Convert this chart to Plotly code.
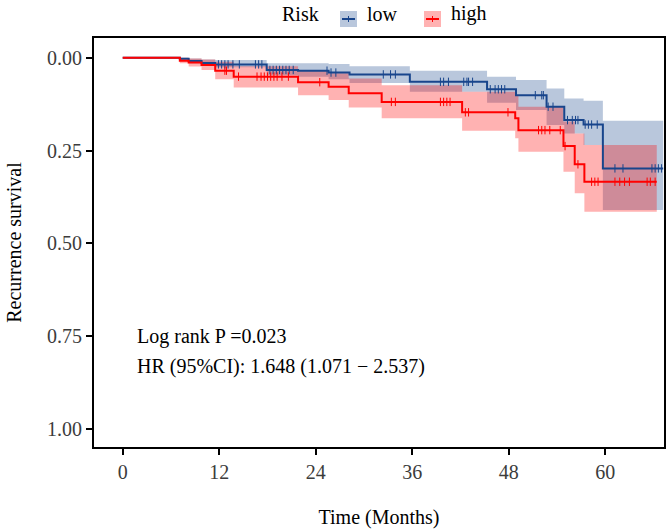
import numpy as np
import plotly.graph_objects as go

# ---------------- data ----------------
high_time = [0, 7.1, 8.2, 9.8, 11.5, 13.8, 21.8, 25.6, 28.1, 32.2, 42.2, 48.8, 49.2, 54.8, 56.2, 57.4, 66.4]
high_est = [0, 0.008, 0.013, 0.020, 0.035, 0.051, 0.066, 0.078, 0.096, 0.119, 0.147, 0.163, 0.195, 0.238, 0.287, 0.334, 0.334]
high_lo = [0, 0.000, 0.002, 0.005, 0.011, 0.023, 0.033, 0.042, 0.056, 0.074, 0.092, 0.101, 0.132, 0.172, 0.204, 0.235, 0.235]
high_hi = [0, 0.015, 0.024, 0.033, 0.058, 0.080, 0.101, 0.114, 0.134, 0.163, 0.197, 0.217, 0.253, 0.307, 0.365, 0.415, 0.415]

low_time = [0, 7.1, 8.2, 9.8, 11.5, 17.9, 21.8, 25.6, 28.2, 35.7, 45.3, 48.9, 52.7, 54.9, 57.3, 59.7, 67.2]
low_est = [0, 0.003, 0.009, 0.014, 0.018, 0.033, 0.035, 0.040, 0.045, 0.065, 0.085, 0.101, 0.132, 0.168, 0.180, 0.298, 0.298]
low_lo = [0, 0.000, 0.002, 0.005, 0.006, 0.015, 0.015, 0.017, 0.023, 0.035, 0.051, 0.060, 0.083, 0.110, 0.116, 0.170, 0.170]
low_hi = [0, 0.006, 0.015, 0.019, 0.026, 0.047, 0.051, 0.058, 0.068, 0.092, 0.121, 0.141, 0.181, 0.204, 0.235, 0.410, 0.410]

high_cens = [12.7, 12.9, 14.4, 16.7, 17.2, 17.6, 18.0, 18.4, 18.8, 19.2, 19.8, 20.6, 24.5, 33.4, 33.9,
             39.5, 39.9, 40.3, 40.7, 42.6, 43.0, 47.9, 51.7, 52.1, 52.5, 53.1, 54.4, 55.0, 56.6,
             58.3, 58.7, 59.1, 61.2, 61.8, 62.4, 63.0, 65.2, 65.6, 66.2]
low_cens = [11.9, 12.3, 12.7, 13.1, 13.7, 14.5, 16.5, 16.9, 17.3, 18.3, 18.7, 19.1, 19.5, 19.9, 20.3,
            20.7, 21.2, 25.4, 25.9, 26.5, 32.4, 33.3, 33.9, 39.5, 39.9, 40.5, 42.4, 42.8, 43.0, 43.5,
            45.7, 46.3, 46.7, 47.1, 47.5, 51.3, 52.1, 52.3, 52.9, 53.5, 55.3, 55.9, 56.3, 56.6,
            57.5, 57.9, 58.3, 59.0, 61.2, 62.2, 65.8, 66.2, 66.6, 67.0]

x_ticks = [0, 12, 24, 36, 48, 60]
y_ticks = [0, 0.25, 0.5, 0.75, 1.0]
y_tick_labels = ["0.00", "0.25", "0.50", "0.75", "1.00"]

p_text = "Log rank P =0.023"
hr_text = "HR (95%CI): 1.648 (1.071 \u2212 2.537)"

# ---------------- style ----------------
FONT = "Liberation Serif"
BLUE = "rgb(24,69,140)"
BLUE_FILL = "rgba(24,69,140,0.3)"
RED = "rgb(255,0,0)"
RED_FILL = "rgba(255,0,0,0.3)"


def step_at(times, vals, t):
    idx = np.searchsorted(np.array(times), np.array(t), side="right") - 1
    return np.array(vals)[idx]


fig = go.Figure()

for times, lo, hi, fill in [
    (low_time, low_lo, low_hi, BLUE_FILL),
    (high_time, high_lo, high_hi, RED_FILL),
]:
    fig.add_trace(go.Scatter(x=times, y=hi, mode="lines", line=dict(width=0, shape="hv"),
                             showlegend=False, hoverinfo="skip"))
    fig.add_trace(go.Scatter(x=times, y=lo, mode="lines", line=dict(width=0, shape="hv"),
                             fill="tonexty", fillcolor=fill, showlegend=False, hoverinfo="skip"))

for times, est, cens, col in [
    (low_time, low_est, low_cens, BLUE),
    (high_time, high_est, high_cens, RED),
]:
    fig.add_trace(go.Scatter(x=times, y=est, mode="lines", line=dict(color=col, width=2, shape="hv"),
                             showlegend=False))
    fig.add_trace(go.Scatter(x=cens, y=step_at(times, est, cens), mode="markers",
                             marker=dict(symbol="line-ns", size=6, line=dict(color=col, width=1)),
                             showlegend=False))

# annotations in data coords
fig.add_annotation(x=1.5, y=0.75, text=p_text, showarrow=False, xanchor="left", yanchor="middle",
                   font=dict(family=FONT, size=20, color="black"))
fig.add_annotation(x=1.5, y=0.83, text=hr_text, showarrow=False, xanchor="left", yanchor="middle",
                   font=dict(family=FONT, size=20, color="black"))

# manual legend (paper coords): plot area 94..664 px, 38..447 px
W, H, L, B = 570.0, 409.0, 94.0, 447.0


def px(xp):
    return (xp - L) / W


def py(yp):
    return (B - yp) / H


fig.add_annotation(xref="paper", yref="paper", x=px(280), y=py(14), text="Risk", showarrow=False,
                   xanchor="left", yanchor="middle", font=dict(family=FONT, size=20, color="black"))
for x0, col, fill, label in [(340, BLUE, BLUE_FILL, "low"), (424, RED, RED_FILL, "high")]:
    fig.add_shape(type="rect", xref="paper", yref="paper", x0=px(x0), x1=px(x0 + 17), y0=py(27), y1=py(11),
                  fillcolor=fill, line=dict(width=0), layer="above")
    fig.add_shape(type="line", xref="paper", yref="paper", x0=px(x0 + 2), x1=px(x0 + 15), y0=py(19), y1=py(19),
                  line=dict(color=col, width=2), layer="above")
    fig.add_shape(type="line", xref="paper", yref="paper", x0=px(x0 + 8.5), x1=px(x0 + 8.5), y0=py(16),
                  y1=py(22), line=dict(color=col, width=1), layer="above")
    fig.add_annotation(xref="paper", yref="paper", x=px(x0 + 25), y=py(14), text=label, showarrow=False,
                       xanchor="left", yanchor="middle", font=dict(family=FONT, size=20, color="black"))

axis_common = dict(showline=True, linecolor="black", linewidth=2, mirror=True, ticks="outside",
                   ticklen=6, tickwidth=2, tickcolor="black", showgrid=False, zeroline=False,
                   tickfont=dict(family=FONT, size=20, color="rgb(60,60,60)"))

fig.update_xaxes(range=[-3.57, 67.3], tickvals=x_ticks, ticktext=[str(v) for v in x_ticks],
                 title=dict(text="Time (Months)", font=dict(family=FONT, size=20, color="black"), standoff=28),
                 **axis_common)
fig.update_yaxes(range=[1.048, -0.053], tickvals=y_ticks, ticktext=y_tick_labels,
                 title=dict(text="Recurrence survival", font=dict(family=FONT, size=20, color="black"), standoff=20),
                 **axis_common)

fig.update_layout(width=668, height=532, margin=dict(l=94, r=4, t=38, b=85, autoexpand=False),
                  plot_bgcolor="white", paper_bgcolor="white", showlegend=False,
                  font=dict(family=FONT, size=20, color="black"))

fig.write_html("out.html", config={"displayModeBar": False},
               post_script="document.body.style.margin='0';document.body.style.overflow='hidden';")
